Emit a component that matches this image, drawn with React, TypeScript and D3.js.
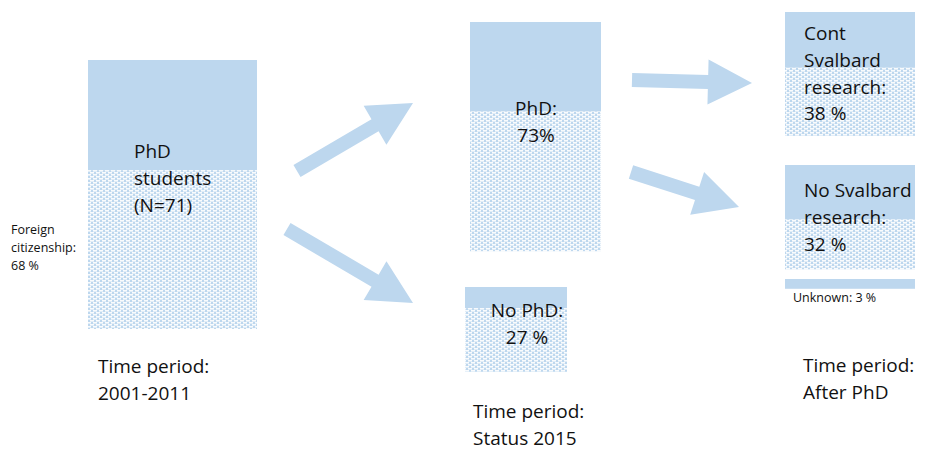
import React from 'react';
import { scaleLinear } from 'd3';

// values
const nodeNames = ['students', 'phd', 'nophd', 'cont', 'nosval', 'unknown'];
const nodeShares = [100, 73, 27, 38, 32, 3]; // % of the column total (box height)
const foreignShares = [59, 61, 75, 55, 48, 0]; // patterned (foreign) part of each box, %
const nodeLabels = [
  ['PhD', 'students', '(N=71)'],
  ['PhD:', '73%'],
  ['No PhD:', '27 %'],
  ['Cont', 'Svalbard', 'research:', '38 %'],
  ['No Svalbard', 'research:', '32 %'],
  [],
];
const stageLabels = [
  ['Time period:', '2001-2011'],
  ['Time period:', 'Status 2015'],
  ['Time period:', 'After PhD'],
];
const flows = [
  ['students', 'phd'],
  ['students', 'nophd'],
  ['phd', 'cont'],
  ['phd', 'nosval'],
];
const sideNotes = [
  ['Foreign', 'citizenship:', '68 %'],
  ['Unknown: 3 %'],
];

// layout
const W = 925;
const H = 452;
const BLUE = '#BDD7EE';
const FONT = "'Open Sans', sans-serif";
const LINE = 26.8;

const colScale = [
  scaleLinear().domain([0, 100]).range([0, 269]),
  scaleLinear().domain([0, 100]).range([0, 314]),
  scaleLinear().domain([0, 100]).range([0, 326]),
];

const boxLayout = [
  { col: 0, x: 88, y: 60, w: 169, tx: 134, ty: 158, anchor: 'start' },
  { col: 1, x: 470, y: 22, w: 131, tx: 536, ty: 115, anchor: 'middle' },
  { col: 1, x: 465, y: 287, w: 102, tx: 527, ty: 317, anchor: 'middle' },
  { col: 2, x: 785, y: 12, w: 130, tx: 804, ty: 40, anchor: 'start' },
  { col: 2, x: 785, y: 165, w: 130, tx: 804, ty: 197, anchor: 'start' },
  { col: 2, x: 785, y: 279, w: 130, tx: 0, ty: 0, anchor: 'start' },
];

const stageLayout = [
  { x: 98, y: 373 },
  { x: 473, y: 418 },
  { x: 803, y: 372 },
];

const noteLayout = [
  { x: 11, y: 234, size: 12.5, line: 18 },
  { x: 793, y: 302, size: 12.5, line: 18 },
];

// tail centre -> tip for each flow arrow
const arrowLayout = [
  { x0: 297, y0: 171, x1: 413, y1: 103 },
  { x0: 287, y0: 229, x1: 413, y1: 303 },
  { x0: 632, y0: 80, x1: 752, y1: 83 },
  { x0: 631, y0: 172, x1: 739, y1: 207 },
];

function arrowPath(a: { x0: number; y0: number; x1: number; y1: number }) {
  const sw = 14, hl = 44, hw = 45;
  const dx = a.x1 - a.x0, dy = a.y1 - a.y0;
  const len = Math.hypot(dx, dy);
  const ux = dx / len, uy = dy / len;
  const nx = -uy, ny = ux;
  const bx = a.x1 - ux * hl, by = a.y1 - uy * hl;
  const pts = [
    [a.x0 + nx * sw / 2, a.y0 + ny * sw / 2],
    [bx + nx * sw / 2, by + ny * sw / 2],
    [bx + nx * hw / 2, by + ny * hw / 2],
    [a.x1, a.y1],
    [bx - nx * hw / 2, by - ny * hw / 2],
    [bx - nx * sw / 2, by - ny * sw / 2],
    [a.x0 - nx * sw / 2, a.y0 - ny * sw / 2],
  ];
  return 'M' + pts.map(p => p.join(',')).join('L') + 'Z';
}

const App: React.FC = () => {
  return (
    <svg width={W} height={H} style={{ position: 'absolute', left: 0, top: 0 }} fontFamily={FONT}>
      <defs>
        <pattern id="foreign" width={6} height={4} patternUnits="userSpaceOnUse">
          <rect width={6} height={4} fill={BLUE} />
          <rect x={0} y={0} width={4} height={1.6} fill="#fff" opacity={0.9} />
          <rect x={3} y={2} width={4} height={1.6} fill="#fff" opacity={0.9} />
          <rect x={-3} y={2} width={4} height={1.6} fill="#fff" opacity={0.9} />
        </pattern>
      </defs>

      {flows.map((f, i) => (
        <path key={f.join('-')} d={arrowPath(arrowLayout[i])} fill={BLUE} />
      ))}

      {nodeNames.map((name, i) => {
        const l = boxLayout[i];
        const h = colScale[l.col](nodeShares[i]);
        const fh = h * foreignShares[i] / 100;
        return (
          <g key={name}>
            <rect x={l.x} y={l.y} width={l.w} height={h - fh} fill={BLUE} />
            {fh > 0 && <rect x={l.x} y={l.y + h - fh} width={l.w} height={fh} fill="url(#foreign)" />}
            <text x={l.tx} y={l.ty} fontSize={19} fill="#111" textAnchor={l.anchor}>
              {nodeLabels[i].map((t, j) => (
                <tspan key={j} x={l.tx} y={l.ty + j * LINE}>{t}</tspan>
              ))}
            </text>
          </g>
        );
      })}

      {stageLabels.map((lines, i) => (
        <text key={i} fontSize={19} fill="#111">
          {lines.map((t, j) => (
            <tspan key={j} x={stageLayout[i].x} y={stageLayout[i].y + j * LINE}>{t}</tspan>
          ))}
        </text>
      ))}

      {sideNotes.map((lines, i) => (
        <text key={i} fontSize={noteLayout[i].size} fill="#111">
          {lines.map((t, j) => (
            <tspan key={j} x={noteLayout[i].x} y={noteLayout[i].y + j * noteLayout[i].line}>{t}</tspan>
          ))}
        </text>
      ))}
    </svg>
  );
};

export default App;
